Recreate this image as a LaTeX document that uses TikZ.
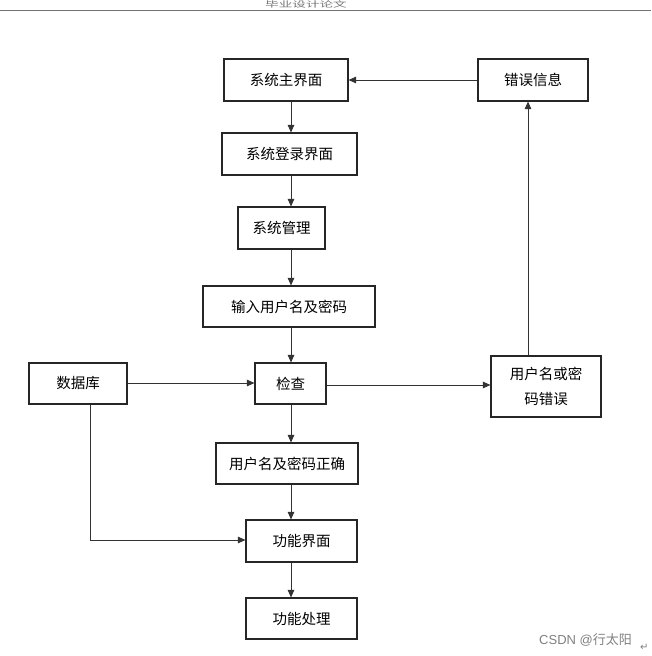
\documentclass[tikz,border=0pt]{standalone}
\usepackage{fontspec}
\setmainfont{Liberation Sans}
\newfontfamily\cjk{Noto Sans CJK SC}
\newfontfamily\dejavu{DejaVu Sans}
\usetikzlibrary{arrows.meta}
\begin{document}
\begin{tikzpicture}[x=1pt,y=-1pt,
  box/.style={draw=black!85,line width=1.1pt,rectangle,inner sep=0pt,font=\cjk\fontsize{14.5}{17}\selectfont,align=center},
  arr/.style={draw=black!80,line width=0.9pt,-{Triangle[length=7.5pt,width=6.5pt]}}]
\useasboundingbox (0,0) rectangle (651,656);
\node[font=\cjk\fontsize{8}{9}\selectfont,text=black!55,anchor=base west,inner sep=0pt] (hdr) at (265,7.5) {\scalebox{1.7}[1]{毕业设计论文}};
\draw[black!55,line width=1pt] (0,10) -- (651,10);
% boxes
\node[box,minimum width=124pt,minimum height=42pt] (main) at (286,80) {系统主界面};
\node[box,minimum width=110pt,minimum height=42pt] (err) at (533,80) {错误信息};
\node[box,minimum width=135pt,minimum height=42pt] (login) at (289.5,154) {系统登录界面};
\node[box,minimum width=87pt,minimum height=42pt] (mgmt) at (281.5,228) {系统管理};
\node[box,minimum width=172pt,minimum height=41pt] (input) at (289,306.5) {输入用户名及密码};
\node[box,minimum width=98pt,minimum height=41pt] (db) at (78,383.5) {数据库};
\node[box,minimum width=71pt,minimum height=41pt] (chk) at (290.5,383.5) {检查};
\node[box,minimum width=110pt,minimum height=61pt,font=\cjk\fontsize{14.5}{25}\selectfont] (wrong) at (546,386.5) {用户名或密\\码错误};
\node[box,minimum width=142pt,minimum height=41pt] (ok) at (287,463.5) {用户名及密码正确};
\node[box,minimum width=111pt,minimum height=42pt] (func) at (301.5,541) {功能界面};
\node[box,minimum width=111pt,minimum height=41pt] (proc) at (301.5,618.5) {功能处理};
% vertical chain at x=291
\draw[arr] (main.south -| 291,0) -- (login.north -| 291,0);
\draw[arr] (login.south -| 291,0) -- (mgmt.north -| 291,0);
\draw[arr] (mgmt.south -| 291,0) -- (input.north -| 291,0);
\draw[arr] (input.south -| 291,0) -- (chk.north -| 291,0);
\draw[arr] (chk.south -| 291,0) -- (ok.north -| 291,0);
\draw[arr] (ok.south -| 291,0) -- (func.north -| 291,0);
\draw[arr] (func.south -| 291,0) -- (proc.north -| 291,0);
% side connectors
\coordinate (dbturn) at (90,540);
\draw[arr] (db.east |- 0,383) -- (chk.west |- 0,383);
\draw[arr] (db.south -| dbturn) -- (dbturn) -- (func.west |- dbturn);
\draw[arr] (chk.east |- 0,385) -- (wrong.west |- 0,385);
\draw[arr] (wrong.north -| 528,0) -- (err.south -| 528,0);
\draw[arr] (err.west) -- (main.east);
% watermark
\node[font=\fontsize{13}{15}\selectfont,text=black!50,anchor=base west,inner sep=0pt] (wm) at (539,644) {CSDN @{\cjk 行太阳}};
\node[font=\dejavu\fontsize{10}{11}\selectfont,text=black!50,anchor=base west,inner sep=0pt] (ret) at (640,650) {↵};
\end{tikzpicture}
\end{document}
